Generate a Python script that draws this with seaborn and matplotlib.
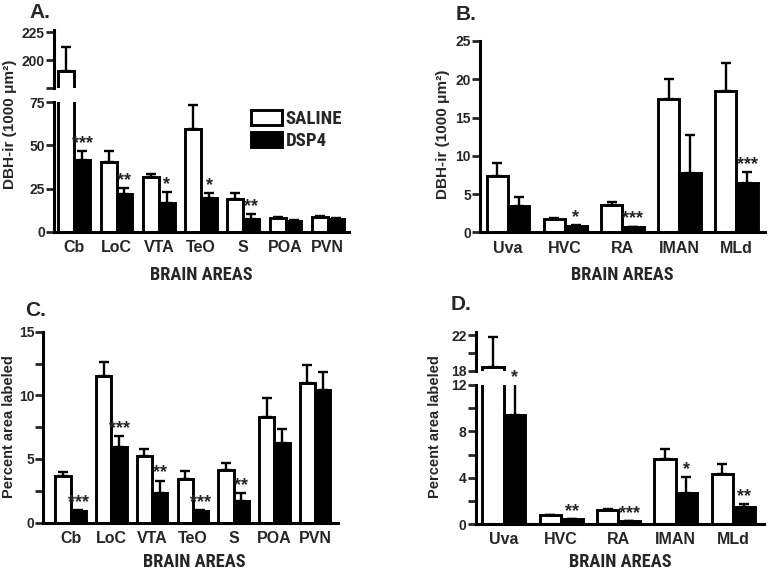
import matplotlib
matplotlib.use("Agg")
import matplotlib.pyplot as plt
from matplotlib.patches import Patch
from matplotlib.ticker import MultipleLocator, FixedLocator
from matplotlib import font_manager
import numpy as np
import pandas as pd
import seaborn as sns

groups = ["SALINE", "DSP4"]
areas_ac = ["Cb", "LoC", "VTA", "TeO", "S", "POA", "PVN"]
areas_bd = ["Uva", "HVC", "RA", "IMAN", "MLd"]

# A. DBH-ir (1000 um2), mean and upper SEM
a_saline = [190, 40.5, 31.5, 59.5, 19.0, 7.7, 8.5]
a_saline_err = [22, 6.0, 2.2, 14.0, 3.3, 0.8, 0.7]
a_dsp4 = [41.5, 21.8, 16.8, 19.3, 7.4, 6.4, 7.4]
a_dsp4_err = [5.0, 3.4, 6.0, 3.0, 2.8, 0.4, 0.4]
a_stars = ["***", "**", "*", "*", "**", "", ""]

# B. DBH-ir (1000 um2)
b_saline = [7.3, 1.7, 3.6, 17.4, 18.5]
b_saline_err = [1.7, 0.2, 0.4, 2.6, 3.6]
b_dsp4 = [3.4, 0.82, 0.65, 7.8, 6.4]
b_dsp4_err = [1.2, 0.1, 0.1, 4.9, 1.5]
b_stars = ["", "*", "***", "", "***"]

# C. percent area labeled
c_saline = [3.65, 11.5, 5.2, 3.4, 4.1, 8.3, 11.0]
c_saline_err = [0.35, 1.1, 0.55, 0.65, 0.55, 1.45, 1.35]
c_dsp4 = [0.88, 5.95, 2.3, 0.9, 1.7, 6.25, 10.4]
c_dsp4_err = [0.08, 0.85, 1.0, 0.1, 0.6, 1.1, 1.4]
c_stars = ["***", "***", "**", "***", "**", "", ""]

# D. percent area labeled
d_saline = [18.4, 0.75, 1.2, 5.65, 4.3]
d_saline_err = [3.4, 0.06, 0.12, 0.85, 0.85]
d_dsp4 = [9.45, 0.4, 0.23, 2.65, 1.45]
d_dsp4_err = [3.5, 0.04, 0.05, 1.4, 0.27]
d_stars = ["*", "**", "***", "*", "**"]

sns.set_style("ticks")
plt.rcParams["font.family"] = ["Liberation Sans", "DejaVu Sans"]
plt.rcParams["font.weight"] = "bold"
plt.rcParams["axes.linewidth"] = 2.2
plt.rcParams["axes.edgecolor"] = "black"

# condensed face for the axis titles / legend if one is around
names = {f.name for f in font_manager.fontManager.ttflist}
narrow, narrow_size = "Liberation Sans", 11
for cand in ["Liberation Sans Narrow", "Roboto Condensed", "Nimbus Sans Narrow", "PT Sans Narrow"]:
    if cand in names:
        narrow, narrow_size = cand, 13.2
        break

palette = {"SALINE": "white", "DSP4": "black"}
W, H = 768, 573
fig = plt.figure(figsize=(7.68, 5.73), dpi=100)


def px_axes(left, right, top, bottom):
    # pixel box -> figure axes
    return fig.add_axes([left / W, 1 - bottom / H, (right - left) / W, (bottom - top) / H])


def draw_bars(ax, areas, saline, saline_err, dsp4, dsp4_err):
    n = len(areas)
    df = pd.DataFrame({
        "area": areas * 2,
        "group": ["SALINE"] * n + ["DSP4"] * n,
        "value": saline + dsp4,
    })
    sns.barplot(data=df, x="area", y="value", hue="group", order=areas,
                hue_order=groups, palette=palette, edgecolor="black",
                linewidth=2.1, width=0.75, errorbar=None, legend=False, ax=ax)
    for cont, errs in zip(ax.containers, [saline_err, dsp4_err]):
        xs = [p.get_x() + p.get_width() / 2 for p in cont]
        ys = [p.get_height() for p in cont]
        ax.errorbar(xs, ys, yerr=[np.zeros(len(errs)), errs], fmt="none",
                    ecolor="black", elinewidth=1.7, capsize=3.6, capthick=1.7)
    ax.set_xlabel("")
    ax.set_ylabel("")


def add_stars(ax, dsp4, dsp4_err, stars):
    cont = ax.containers[1]
    top = ax.get_ylim()[1]
    for p, v, e, s in zip(cont, dsp4, dsp4_err, stars):
        if not s:
            continue
        y = min(v + e, top)
        ax.annotate(s, (p.get_x() + p.get_width() / 2, y), xytext=(0, 5.5),
                    textcoords="offset points", ha="center", va="center",
                    fontsize=13, fontweight="bold", annotation_clip=False)


def style_axes(ax, xlim):
    sns.despine(ax=ax)
    ax.set_xlim(*xlim)
    ax.tick_params(axis="y", length=5.5, width=2, pad=1, labelsize=10)
    ax.tick_params(axis="y", which="minor", length=5.5, width=2)
    ax.tick_params(axis="x", length=0, pad=6, labelsize=11.5)


def style_upper(ax, xlim):
    style_axes(ax, xlim)
    ax.spines["bottom"].set_visible(False)
    ax.set_xticks([])


# ---------------- A (broken axis) ----------------
axA_top = px_axes(54, 349, 30, 88)
axA = px_axes(54, 349, 102.3, 231.7)
for ax in (axA_top, axA):
    draw_bars(ax, areas_ac, a_saline, a_saline_err, a_dsp4, a_dsp4_err)
axA_top.set_ylim(175, 226.8)
axA_top.set_yticks([175, 200, 225], ["", "200", "225"])
style_upper(axA_top, (-0.48, 6.5))
axA.set_ylim(0, 75)
axA.set_yticks([0, 25, 50, 75])
style_axes(axA, (-0.48, 6.5))
add_stars(axA, a_dsp4, a_dsp4_err, a_stars)

handles = [Patch(facecolor=palette[g], edgecolor="black", linewidth=2.1, label=g) for g in groups]
axA.legend(handles=handles, loc="upper left", bbox_to_anchor=(251 / W, 1 - 110 / H),
           bbox_transform=fig.transFigure, frameon=False, borderpad=0, borderaxespad=0,
           handlelength=1.65, handleheight=0.85, handletextpad=0.2, labelspacing=0.2,
           prop={"family": narrow, "weight": "bold", "size": 13.5})

# ---------------- B ----------------
axB = px_axes(480, 765, 41, 232.3)
draw_bars(axB, areas_bd, b_saline, b_saline_err, b_dsp4, b_dsp4_err)
axB.set_ylim(0, 25)
axB.set_yticks([0, 5, 10, 15, 20, 25])
style_axes(axB, (-0.49, 4.5))
add_stars(axB, b_dsp4, b_dsp4_err, b_stars)

# ---------------- C ----------------
axC = px_axes(43.3, 338, 331.7, 522.5)
draw_bars(axC, areas_ac, c_saline, c_saline_err, c_dsp4, c_dsp4_err)
axC.set_ylim(0, 15)
axC.set_yticks([0, 5, 10, 15])
axC.yaxis.set_minor_locator(MultipleLocator(2.5))
style_axes(axC, (-0.673, 6.565))
add_stars(axC, c_dsp4, c_dsp4_err, c_stars)

# ---------------- D (broken axis) ----------------
axD_top = px_axes(475.7, 764, 331.5, 370.7)
axD = px_axes(475.7, 764, 385, 524)
for ax in (axD_top, axD):
    draw_bars(ax, areas_bd, d_saline, d_saline_err, d_dsp4, d_dsp4_err)
axD_top.set_ylim(18, 22.4)
axD_top.set_yticks([18, 22])
axD_top.yaxis.set_minor_locator(FixedLocator([20]))
style_upper(axD_top, (-0.49, 4.54))
axD.set_ylim(0, 12)
axD.set_yticks([0, 4, 8, 12])
axD.yaxis.set_minor_locator(MultipleLocator(2))
style_axes(axD, (-0.49, 4.54))
add_stars(axD, d_dsp4, d_dsp4_err, d_stars)

# ---------------- labels ----------------
lab = {"ha": "center", "va": "center"}
for x, y in [(201.5, 275), (622.5, 275), (194, 562), (620, 562)]:
    fig.text(x / W, 1 - y / H, "BRAIN AREAS", family=narrow, fontsize=narrow_size, **lab)
fig.text(10 / W, 1 - 124 / H, "DBH-ir (1000 \u03bcm\u00b2)", rotation=90, fontsize=11, **lab)
fig.text(443 / W, 1 - 134 / H, "DBH-ir (1000 \u03bcm\u00b2)", rotation=90, fontsize=11, **lab)
fig.text(9 / W, 1 - 427 / H, "Percent area labeled", rotation=90, fontsize=10.5, **lab)
fig.text(435 / W, 1 - 427 / H, "Percent area labeled", rotation=90, fontsize=10.5, **lab)
for x, y, s in [(29, 12.5, "A."), (456, 15, "B."), (25, 310, "C."), (451, 304, "D.")]:
    fig.text(x / W, 1 - y / H, s, fontsize=15, ha="left", va="center")

fig.savefig("out.png", dpi=100)
